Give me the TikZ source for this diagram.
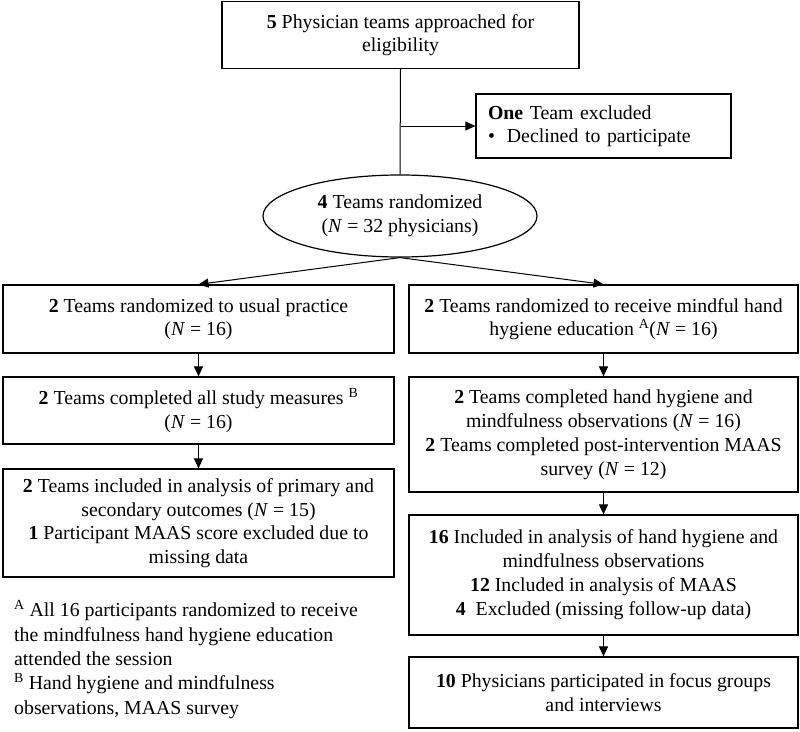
\documentclass[tikz,border=0pt]{standalone}
\usepackage{fontspec}
\setmainfont{Liberation Serif}
\usetikzlibrary{arrows.meta,shapes.geometric}
\begin{document}
\begin{tikzpicture}[x=1pt,y=-1pt,
  every node/.style={font=\fontsize{19.8}{23.5}\selectfont, inner sep=0pt},
  box/.style={draw, line width=1.2pt, align=center, minimum width=#1},
  box/.default=391pt,
  conn/.style={line width=1pt},
  arr/.style={line width=1pt, -{Triangle[length=10pt,width=9pt]}}]
\useasboundingbox (0,0) rectangle (800,731);
\node[box=357pt, minimum height=67pt] (top) at (400.5,35) {\textbf{5} Physician teams approached for\\eligibility};
\node[draw, line width=1.2pt, align=left, text width=231pt, inner xsep=12pt, minimum height=64pt] (excl) at (603.5,126) {\textbf{One} Team excluded\\•\hspace{12pt}Declined to participate};
\node[draw, ellipse, line width=1.2pt, minimum width=274pt, minimum height=82pt, align=center] (ell) at (400,216) {\textbf{4} Teams randomized\\(\textit{N} = 32 physicians)};
\node[box, minimum height=68pt] (L1) at (198.5,319) {\textbf{2} Teams randomized to usual practice\\(\textit{N} = 16)};
\node[box, minimum height=67pt] (L2) at (198.5,410.5) {\textbf{2} Teams completed all study measures \textsuperscript{B}\\(\textit{N} = 16)};
\node[box, minimum height=108pt] (L3) at (198.5,523) {\textbf{2} Teams included in analysis of primary and\\secondary outcomes (\textit{N} = 15)\\\textbf{1} Participant MAAS score excluded due to\\missing data};
\node[box=389pt, minimum height=68pt] (R1) at (603.5,319) {\textbf{2} Teams randomized to receive mindful hand\\hygiene education \textsuperscript{A}(\textit{N} = 16)};
\node[box=389pt, minimum height=115pt, font=\fontsize{19.8}{24}\selectfont] (R2) at (603.5,434.5) {\textbf{2} Teams completed hand hygiene and\\mindfulness observations (\textit{N} = 16)\\\textbf{2} Teams completed post-intervention MAAS\\survey (\textit{N} = 12)};
\node[box=389pt, minimum height=120pt, font=\fontsize{19.8}{24}\selectfont] (R3) at (603.5,575) {\textbf{16} Included in analysis of hand hygiene and\\mindfulness observations\\\textbf{12} Included in analysis of MAAS\\\textbf{4}\ \ Excluded (missing follow-up data)};
\node[box=389pt, minimum height=71pt] (R4) at (603.5,692.5) {\textbf{10} Physicians participated in focus groups\\and interviews};
\node[align=left, anchor=north west, font=\fontsize{19.8}{24.3}\selectfont] (fn) at (14,600) {\textsuperscript{A} All 16 participants randomized to receive\\the mindfulness hand hygiene education\\attended the session\\\textsuperscript{B} Hand hygiene and mindfulness\\observations, MAAS survey};
\draw[conn] (top.south) -- (ell.north);
\draw[arr] (top.south |- excl.west) -- (excl.west);
\draw[arr] (ell.south) -- (L1.north);
\draw[arr] (ell.south) -- (R1.north);
\draw[arr] (L1) -- (L2);
\draw[arr] (L2) -- (L3);
\draw[arr] (R1) -- (R2);
\draw[arr] (R2) -- (R3);
\draw[arr] (R3) -- (R4);
\end{tikzpicture}
\end{document}
